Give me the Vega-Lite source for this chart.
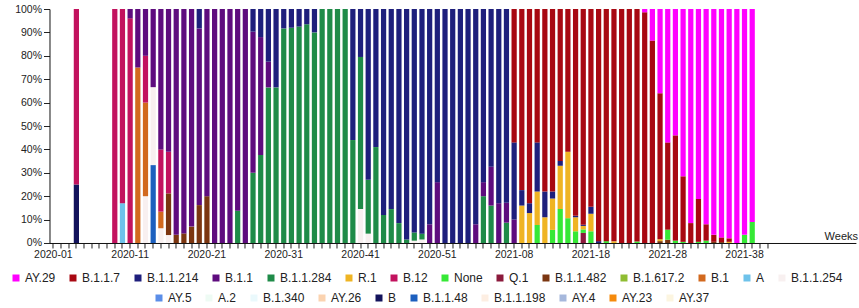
{
  "$schema": "https://vega.github.io/schema/vega-lite/v6.json",
  "width": 806.4,
  "height": 234,
  "autosize": {"type": "none"},
  "padding": {"left": 49.5, "top": 9, "right": 3, "bottom": 65},
  "background": "white",
  "config": {
    "view": {"stroke": null},
    "font": "Liberation Sans",
    "axis": {"grid": false, "domainColor": "#111", "tickColor": "#222", "labelColor": "#222", "labelFont": "Liberation Sans"},
    "legend": {"labelFont": "Liberation Sans"}
  },
  "data": {"values": [
    {"week":"2020-04","lineage":"B","pct":25},{"week":"2020-04","lineage":"B.12","pct":75},
    {"week":"2020-09","lineage":"B.12","pct":100},
    {"week":"2020-10","lineage":"A","pct":17},{"week":"2020-10","lineage":"B.12","pct":83},
    {"week":"2020-11","lineage":"B.12","pct":96},{"week":"2020-11","lineage":"B.1.1","pct":4},
    {"week":"2020-12","lineage":"B.1","pct":75},{"week":"2020-12","lineage":"B.1.1","pct":25},
    {"week":"2020-13","lineage":"B.1.1.254","pct":20},{"week":"2020-13","lineage":"B.1","pct":40},{"week":"2020-13","lineage":"B.12","pct":20},{"week":"2020-13","lineage":"B.1.1","pct":20},
    {"week":"2020-14","lineage":"B.1.1.48","pct":33.3},{"week":"2020-14","lineage":"B.1.1.254","pct":33.3},{"week":"2020-14","lineage":"B.1.1","pct":33.4},
    {"week":"2020-15","lineage":"B.1.1.254","pct":6.3},{"week":"2020-15","lineage":"B.1","pct":7.1},{"week":"2020-15","lineage":"B.12","pct":26.6},{"week":"2020-15","lineage":"B.1.1","pct":60},
    {"week":"2020-16","lineage":"B.1.1.254","pct":3.4},{"week":"2020-16","lineage":"B.1.1.482","pct":17.8},{"week":"2020-16","lineage":"B.12","pct":17.8},{"week":"2020-16","lineage":"B.1.1","pct":61},
    {"week":"2020-17","lineage":"B.1.1.482","pct":3.5},{"week":"2020-17","lineage":"B.1.1","pct":96.5},
    {"week":"2020-18","lineage":"B.1.1.482","pct":4.1},{"week":"2020-18","lineage":"B.1.1","pct":95.9},
    {"week":"2020-19","lineage":"B.1.1.482","pct":7},{"week":"2020-19","lineage":"B.1.1","pct":93},
    {"week":"2020-20","lineage":"B.1.1.482","pct":16.2},{"week":"2020-20","lineage":"B.1.1","pct":75.5},{"week":"2020-20","lineage":"B.1.1.214","pct":8.3},
    {"week":"2020-21","lineage":"B.1.1.482","pct":20},{"week":"2020-21","lineage":"B.1.1","pct":80},
    {"week":"2020-22","lineage":"B.1.1","pct":100},
    {"week":"2020-23","lineage":"B.1.1","pct":100},
    {"week":"2020-24","lineage":"B.1.1","pct":100},
    {"week":"2020-25","lineage":"B.1.1.284","pct":13.8},{"week":"2020-25","lineage":"B.1.1","pct":86.2},
    {"week":"2020-26","lineage":"B.1.1","pct":100},
    {"week":"2020-27","lineage":"B.1.1.284","pct":30},{"week":"2020-27","lineage":"B.1.1","pct":60.3},{"week":"2020-27","lineage":"B.1.1.214","pct":9.7},
    {"week":"2020-28","lineage":"B.1.1.284","pct":37.6},{"week":"2020-28","lineage":"B.1.1","pct":50.4},{"week":"2020-28","lineage":"B.1.1.214","pct":12},
    {"week":"2020-29","lineage":"B.1.1.284","pct":66.5},{"week":"2020-29","lineage":"B.1.1","pct":11},{"week":"2020-29","lineage":"B.1.1.214","pct":22.5},
    {"week":"2020-30","lineage":"B.1.1.284","pct":66.5},{"week":"2020-30","lineage":"B.1.1.214","pct":33.5},
    {"week":"2020-31","lineage":"B.1.1.284","pct":91.7},{"week":"2020-31","lineage":"B.1.1.214","pct":8.3},
    {"week":"2020-32","lineage":"B.1.1.284","pct":92},{"week":"2020-32","lineage":"B.1.1.214","pct":8},
    {"week":"2020-33","lineage":"B.1.1.284","pct":92.5},{"week":"2020-33","lineage":"B.1.1.214","pct":7.5},
    {"week":"2020-34","lineage":"B.1.1.284","pct":93.5},{"week":"2020-34","lineage":"B.1.1.214","pct":6.5},
    {"week":"2020-35","lineage":"B.1.1.284","pct":90},{"week":"2020-35","lineage":"B.1.1.214","pct":10},
    {"week":"2020-36","lineage":"B.1.1.284","pct":100},
    {"week":"2020-37","lineage":"B.1.1.284","pct":100},
    {"week":"2020-38","lineage":"B.1.1.284","pct":100},
    {"week":"2020-39","lineage":"B.1.1.284","pct":100},
    {"week":"2020-40","lineage":"B.1.1.284","pct":44},{"week":"2020-40","lineage":"B.1.1.214","pct":56},
    {"week":"2020-41","lineage":"B.1.1.254","pct":14.5},{"week":"2020-41","lineage":"B.1.1.284","pct":65},{"week":"2020-41","lineage":"B.1.1.214","pct":20.5},
    {"week":"2020-42","lineage":"B.1.1.254","pct":4},{"week":"2020-42","lineage":"B.1.1.284","pct":23},{"week":"2020-42","lineage":"B.1.1.214","pct":73},
    {"week":"2020-43","lineage":"B.1.1.284","pct":41},{"week":"2020-43","lineage":"B.1.1.214","pct":59},
    {"week":"2020-44","lineage":"B.1.1.284","pct":12},{"week":"2020-44","lineage":"B.1.1.214","pct":88},
    {"week":"2020-45","lineage":"B.1.1.284","pct":14.5},{"week":"2020-45","lineage":"B.1.1.214","pct":85.5},
    {"week":"2020-46","lineage":"B.1.1.284","pct":8.5},{"week":"2020-46","lineage":"B.1.1.214","pct":91.5},
    {"week":"2020-47","lineage":"B.1.1.284","pct":1.5},{"week":"2020-47","lineage":"B.1.1.214","pct":98.5},
    {"week":"2020-48","lineage":"B.1.1.254","pct":1},{"week":"2020-48","lineage":"B.1.1.284","pct":3.5},{"week":"2020-48","lineage":"B.1.1.214","pct":95.5},
    {"week":"2020-49","lineage":"B.1.1.254","pct":1.5},{"week":"2020-49","lineage":"B.1.1.284","pct":2.5},{"week":"2020-49","lineage":"B.1.1.214","pct":96},
    {"week":"2020-50","lineage":"B.1.1","pct":8},{"week":"2020-50","lineage":"B.1.1.214","pct":92},
    {"week":"2020-51","lineage":"B.1.1","pct":26},{"week":"2020-51","lineage":"B.1.1.214","pct":74},
    {"week":"2020-52","lineage":"B.1.1.214","pct":100},
    {"week":"2020-53","lineage":"B.1.1.214","pct":100},
    {"week":"2021-01","lineage":"B.1.1.214","pct":100},
    {"week":"2021-02","lineage":"B.1.1.214","pct":100},
    {"week":"2021-03","lineage":"B.1.1","pct":8},{"week":"2021-03","lineage":"B.1.1.214","pct":92},
    {"week":"2021-04","lineage":"B.1.1.284","pct":20},{"week":"2021-04","lineage":"B.1.1","pct":6},{"week":"2021-04","lineage":"B.1.1.214","pct":74},
    {"week":"2021-05","lineage":"B.1.1.284","pct":16},{"week":"2021-05","lineage":"B.1.1","pct":16.6},{"week":"2021-05","lineage":"B.1.1.214","pct":67.4},
    {"week":"2021-06","lineage":"B.1.1","pct":17},{"week":"2021-06","lineage":"B.1.1.214","pct":83},
    {"week":"2021-07","lineage":"B.1.1.284","pct":8.7},{"week":"2021-07","lineage":"B.1.1","pct":8.5},{"week":"2021-07","lineage":"B.1.1.214","pct":82.8},
    {"week":"2021-08","lineage":"B.1.1","pct":10},{"week":"2021-08","lineage":"B.1.1.214","pct":33},{"week":"2021-08","lineage":"B.1.1.7","pct":57},
    {"week":"2021-09","lineage":"R.1","pct":16},{"week":"2021-09","lineage":"B.1.1.214","pct":6.6},{"week":"2021-09","lineage":"B.1.1.7","pct":77.4},
    {"week":"2021-10","lineage":"R.1","pct":12.8},{"week":"2021-10","lineage":"B.1.1.214","pct":4.2},{"week":"2021-10","lineage":"B.1.1.7","pct":83},
    {"week":"2021-11","lineage":"None","pct":7.7},{"week":"2021-11","lineage":"R.1","pct":14.3},{"week":"2021-11","lineage":"B.1.1.214","pct":21},{"week":"2021-11","lineage":"B.1.1.7","pct":57},
    {"week":"2021-12","lineage":"R.1","pct":11},{"week":"2021-12","lineage":"B.1.1.214","pct":11},{"week":"2021-12","lineage":"B.1.1.7","pct":78},
    {"week":"2021-13","lineage":"None","pct":5.6},{"week":"2021-13","lineage":"R.1","pct":13.4},{"week":"2021-13","lineage":"B.1.1.214","pct":3},{"week":"2021-13","lineage":"B.1.1.7","pct":78},
    {"week":"2021-14","lineage":"None","pct":14.5},{"week":"2021-14","lineage":"R.1","pct":18.5},{"week":"2021-14","lineage":"B.1.1.214","pct":2},{"week":"2021-14","lineage":"B.1.1.7","pct":65},
    {"week":"2021-15","lineage":"None","pct":10.6},{"week":"2021-15","lineage":"R.1","pct":28.4},{"week":"2021-15","lineage":"B.1.1.7","pct":61},
    {"week":"2021-16","lineage":"None","pct":5},{"week":"2021-16","lineage":"R.1","pct":6},{"week":"2021-16","lineage":"B.1.1.214","pct":0.6},{"week":"2021-16","lineage":"B.1.1.7","pct":88.4},
    {"week":"2021-17","lineage":"Q.1","pct":4.3},{"week":"2021-17","lineage":"None","pct":1.5},{"week":"2021-17","lineage":"R.1","pct":1.5},{"week":"2021-17","lineage":"B.1.1.214","pct":0.5},{"week":"2021-17","lineage":"B.1.1.7","pct":92.2},
    {"week":"2021-18","lineage":"None","pct":5},{"week":"2021-18","lineage":"R.1","pct":7.5},{"week":"2021-18","lineage":"B.1.1.214","pct":3},{"week":"2021-18","lineage":"B.1.1.7","pct":84.5},
    {"week":"2021-19","lineage":"B.1.1.214","pct":0.8},{"week":"2021-19","lineage":"B.1.1.7","pct":99.2},
    {"week":"2021-20","lineage":"None","pct":0.8},{"week":"2021-20","lineage":"B.1.1.7","pct":99.2},
    {"week":"2021-21","lineage":"R.1","pct":0.7},{"week":"2021-21","lineage":"B.1.1.7","pct":99.3},
    {"week":"2021-22","lineage":"B.1.1.7","pct":100},
    {"week":"2021-23","lineage":"B.1.1.7","pct":100},
    {"week":"2021-24","lineage":"None","pct":0.6},{"week":"2021-24","lineage":"B.1.1.7","pct":99.4},
    {"week":"2021-25","lineage":"B.1.1.7","pct":98.6},{"week":"2021-25","lineage":"AY.29","pct":1.4},
    {"week":"2021-26","lineage":"B.1.1.7","pct":86.5},{"week":"2021-26","lineage":"AY.29","pct":13.5},
    {"week":"2021-27","lineage":"B.1.1.482","pct":0.8},{"week":"2021-27","lineage":"R.1","pct":0.8},{"week":"2021-27","lineage":"B.1.1.7","pct":62.4},{"week":"2021-27","lineage":"AY.29","pct":36},
    {"week":"2021-28","lineage":"B.1.1.482","pct":1.4},{"week":"2021-28","lineage":"None","pct":4.3},{"week":"2021-28","lineage":"B.1.1.7","pct":37.3},{"week":"2021-28","lineage":"AY.29","pct":57},
    {"week":"2021-29","lineage":"None","pct":1},{"week":"2021-29","lineage":"B.1.1.7","pct":45},{"week":"2021-29","lineage":"AY.29","pct":54},
    {"week":"2021-30","lineage":"None","pct":0.5},{"week":"2021-30","lineage":"B.1.1.7","pct":28},{"week":"2021-30","lineage":"AY.29","pct":71.5},
    {"week":"2021-31","lineage":"B.1.1.7","pct":8.5},{"week":"2021-31","lineage":"AY.29","pct":91.5},
    {"week":"2021-32","lineage":"None","pct":0.5},{"week":"2021-32","lineage":"B.1.1.7","pct":18.3},{"week":"2021-32","lineage":"AY.29","pct":81.2},
    {"week":"2021-33","lineage":"None","pct":1},{"week":"2021-33","lineage":"B.1.1.7","pct":7},{"week":"2021-33","lineage":"AY.29","pct":92},
    {"week":"2021-34","lineage":"B.1.1.482","pct":0.5},{"week":"2021-34","lineage":"B.1.1.7","pct":3},{"week":"2021-34","lineage":"AY.29","pct":96.5},
    {"week":"2021-35","lineage":"B.1.1.482","pct":0.4},{"week":"2021-35","lineage":"B.1.1.7","pct":2},{"week":"2021-35","lineage":"AY.29","pct":97.6},
    {"week":"2021-36","lineage":"R.1","pct":0.5},{"week":"2021-36","lineage":"B.1.1.7","pct":1.5},{"week":"2021-36","lineage":"AY.29","pct":98},
    {"week":"2021-37","lineage":"AY.29","pct":100},
    {"week":"2021-38","lineage":"None","pct":3.5},{"week":"2021-38","lineage":"AY.29","pct":96.5},
    {"week":"2021-39","lineage":"None","pct":9},{"week":"2021-39","lineage":"AY.29","pct":91}
  ]},
  "encoding": {
    "x": {
      "field": "week", "type": "ordinal",
      "scale": {
        "paddingInner": 0.32, "paddingOuter": 0.16,
        "domain": ["2020-01","2020-02","2020-03","2020-04","2020-05","2020-06","2020-07","2020-08","2020-09","2020-10","2020-11","2020-12","2020-13","2020-14","2020-15","2020-16","2020-17","2020-18","2020-19","2020-20","2020-21","2020-22","2020-23","2020-24","2020-25","2020-26","2020-27","2020-28","2020-29","2020-30","2020-31","2020-32","2020-33","2020-34","2020-35","2020-36","2020-37","2020-38","2020-39","2020-40","2020-41","2020-42","2020-43","2020-44","2020-45","2020-46","2020-47","2020-48","2020-49","2020-50","2020-51","2020-52","2020-53","2021-01","2021-02","2021-03","2021-04","2021-05","2021-06","2021-07","2021-08","2021-09","2021-10","2021-11","2021-12","2021-13","2021-14","2021-15","2021-16","2021-17","2021-18","2021-19","2021-20","2021-21","2021-22","2021-23","2021-24","2021-25","2021-26","2021-27","2021-28","2021-29","2021-30","2021-31","2021-32","2021-33","2021-34","2021-35","2021-36","2021-37","2021-38","2021-39","2021-40","2021-41","2021-42","2021-43","2021-44","2021-45","2021-46","2021-47","2021-48","2021-49","2021-50","2021-51","2021-52"]
      },
      "axis": {
        "values": ["2020-01","2020-02","2020-03","2020-04","2020-05","2020-06","2020-07","2020-08","2020-09","2020-10","2020-11","2020-12","2020-13","2020-14","2020-15","2020-16","2020-17","2020-18","2020-19","2020-20","2020-21","2020-22","2020-23","2020-24","2020-25","2020-26","2020-27","2020-28","2020-29","2020-30","2020-31","2020-32","2020-33","2020-34","2020-35","2020-36","2020-37","2020-38","2020-39","2020-40","2020-41","2020-42","2020-43","2020-44","2020-45","2020-46","2020-47","2020-48","2020-49","2020-50","2020-51","2020-52","2020-53","2021-01","2021-02","2021-03","2021-04","2021-05","2021-06","2021-07","2021-08","2021-09","2021-10","2021-11","2021-12","2021-13","2021-14","2021-15","2021-16","2021-17","2021-18","2021-19","2021-20","2021-21","2021-22","2021-23","2021-24","2021-25","2021-26","2021-27","2021-28","2021-29","2021-30","2021-31","2021-32","2021-33","2021-34","2021-35","2021-36","2021-37","2021-38","2021-39","2021-40","2021-41"],
        "labelExpr": "indexof(['2020-01','2020-11','2020-21','2020-31','2020-41','2020-51','2021-08','2021-18','2021-28','2021-38'], datum.value) >= 0 ? datum.value : ''",
        "labelAngle": 0, "labelOverlap": false, "labelFontSize": 10.5, "labelPadding": 2,
        "tickSize": 5, "tickColor": "#222",
        "title": "Weeks", "titleX": 808, "titleY": -3, "titleAlign": "right", "titleBaseline": "alphabetic",
        "titleFontWeight": "normal", "titleFontSize": 11, "titleColor": "#222"
      }
    },
    "y": {
      "field": "pct", "type": "quantitative", "stack": "normalize",
      "scale": {"domain": [0, 1]},
      "axis": {"values": [0,0.1,0.2,0.3,0.4,0.5,0.6,0.7,0.8,0.9,1], "format": ".0%", "title": null, "labelFontSize": 10.5, "tickSize": 6, "labelPadding": 2}
    }
  },
  "layer": [
    {
      "transform": [{"calculate": "indexof(['AY.29','B.1.1.7','B.1.1.214','B.1.1','B.1.1.284','R.1','B.12','None','Q.1','B.1.1.482','B.1.617.2','B.1','A','B.1.1.254','AY.5','A.2','B.1.340','AY.26','B','B.1.1.48','B.1.1.198','AY.4','AY.23','AY.37'], datum.lineage)", "as": "legendRank"}],
      "mark": {"type": "bar"},
      "encoding": {
        "order": {"field": "legendRank", "type": "quantitative", "sort": "descending"},
        "color": {
          "field": "lineage", "type": "nominal",
          "scale": {
            "domain": ["AY.29","B.1.1.7","B.1.1.214","B.1.1","B.1.1.284","R.1","B.12","None","Q.1","B.1.1.482","B.1.617.2","B.1","A","B.1.1.254","AY.5","A.2","B.1.340","AY.26","B","B.1.1.48","B.1.1.198","AY.4","AY.23","AY.37"],
            "range": ["#ff00ff","#a80812","#1e1f7c","#5e0c7e","#1f8b48","#efb423","#c2125e","#36e836","#8b1a3c","#7b3611","#8fbd32","#d2691e","#6ec2ea","#f8f0f0","#5b8ee8","#eefbf4","#eaf9fc","#fbd3b0","#13135c","#1c5fbe","#fdeee2","#a6b8dc","#f58a0c","#fcf5e0"]
          },
          "legend": {
            "values": ["AY.29","B.1.1.7","B.1.1.214","B.1.1","B.1.1.284","R.1","B.12","None","Q.1","B.1.1.482","B.1.617.2","B.1","A","B.1.1.254"],
            "orient": "none", "legendX": -39.5, "legendY": 263, "direction": "horizontal", "columns": 14,
            "gridAlign": "none", "columnPadding": 11, "title": null, "padding": 0,
            "symbolType": "square", "symbolSize": 49, "symbolStrokeWidth": 0, "labelOffset": 3,
            "labelFontSize": 12, "labelColor": "#222"
          }
        }
      }
    },
    {
      "transform": [{"filter": {"field": "lineage", "oneOf": ["AY.5","A.2","B.1.340","AY.26","B","B.1.1.48","B.1.1.198","AY.4","AY.23","AY.37"]}}],
      "mark": {"type": "bar", "opacity": 0},
      "encoding": {
        "color": {
          "field": "lineage", "type": "nominal",
          "scale": {
            "domain": ["AY.5","A.2","B.1.340","AY.26","B","B.1.1.48","B.1.1.198","AY.4","AY.23","AY.37"],
            "range": ["#5b8ee8","#eefbf4","#eaf9fc","#fbd3b0","#13135c","#1c5fbe","#fdeee2","#a6b8dc","#f58a0c","#fcf5e0"]
          },
          "legend": {
            "orient": "none", "legendX": 103.5, "legendY": 283, "direction": "horizontal", "columns": 10,
            "gridAlign": "none", "columnPadding": 11, "title": null, "padding": 0,
            "symbolType": "square", "symbolSize": 49, "symbolStrokeWidth": 0, "symbolOpacity": 1, "labelOffset": 3,
            "labelFontSize": 12, "labelColor": "#222"
          }
        }
      }
    }
  ],
  "resolve": {"scale": {"color": "independent"}, "legend": {"color": "independent"}}
}
